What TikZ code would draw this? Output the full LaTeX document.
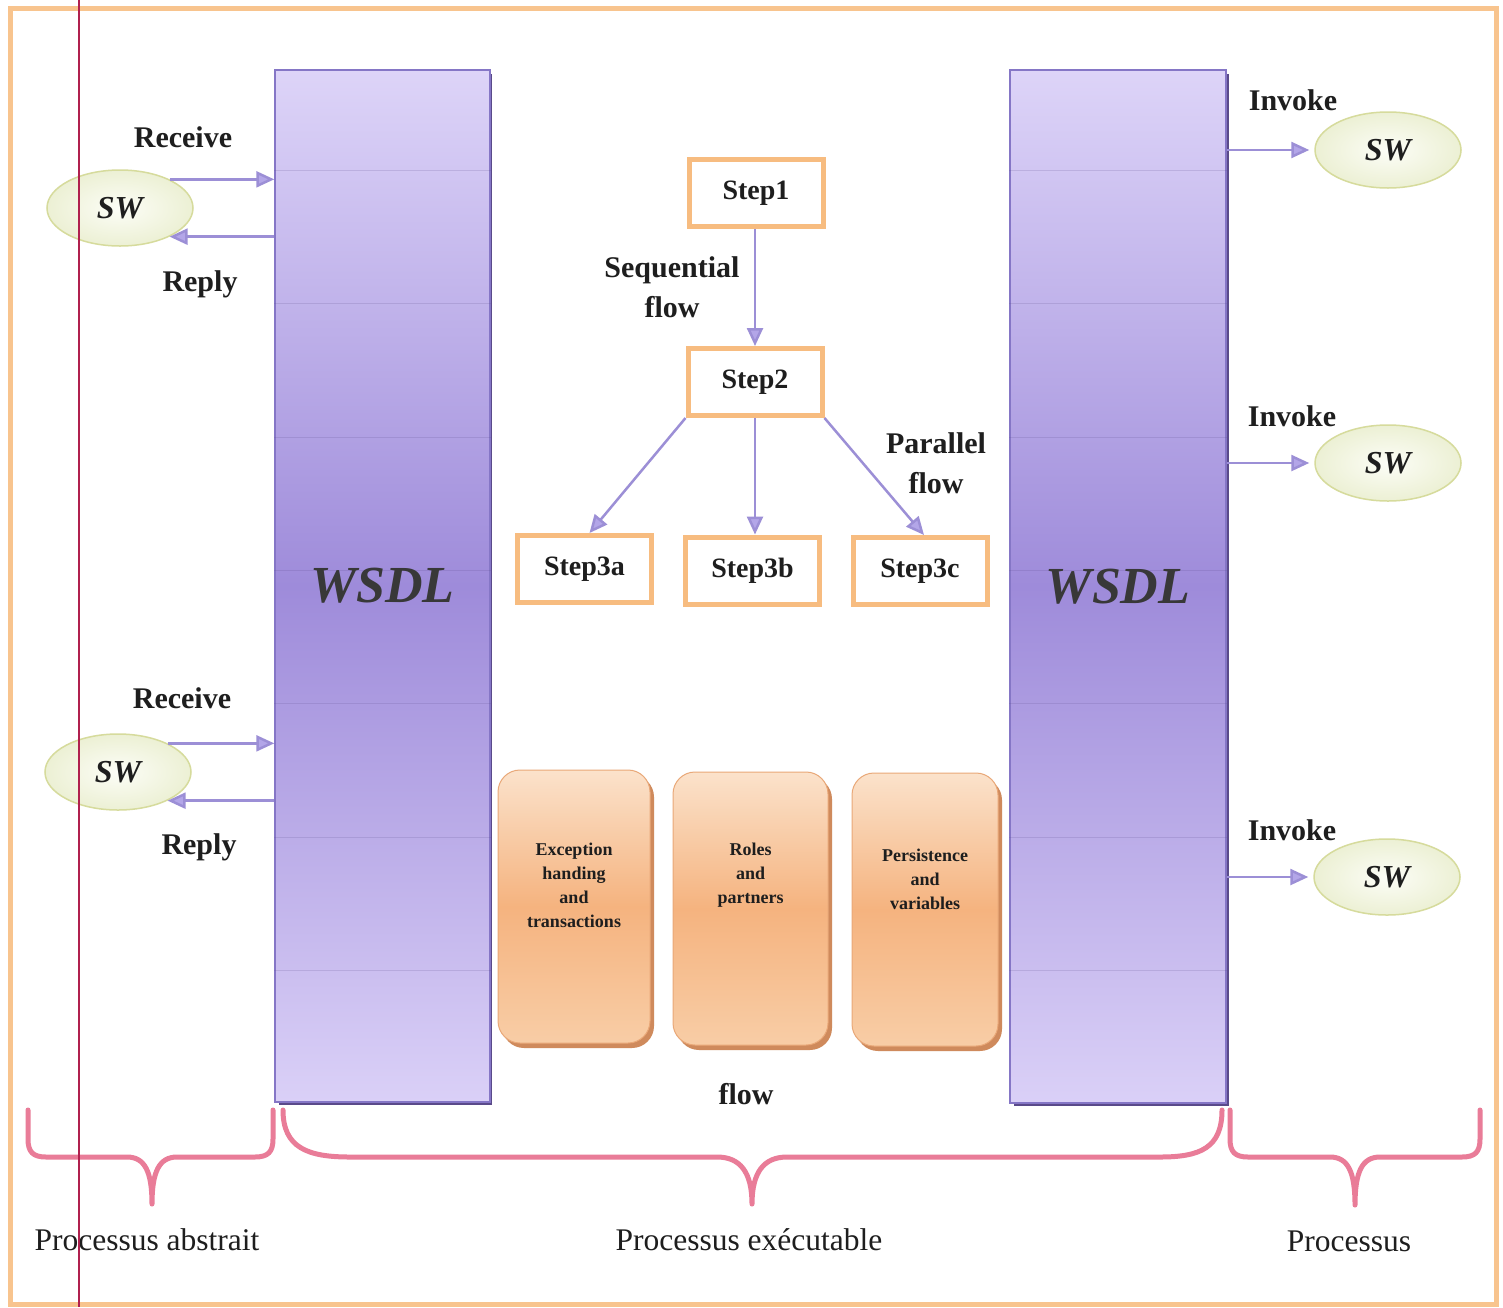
\documentclass[tikz,border=0pt]{standalone}
\usepackage{fontspec}
\setmainfont{Liberation Serif}
\usetikzlibrary{shapes.geometric,arrows.meta,calc}

\definecolor{frameorange}{HTML}{F8C48E}
\definecolor{steporange}{HTML}{F7BC80}
\definecolor{arrowc}{HTML}{9C8FD6}
\definecolor{tipc}{HTML}{B3A6E8}
\definecolor{bartop}{HTML}{DDD4F8}
\definecolor{barmid}{HTML}{9E8BDA}
\definecolor{barbot}{HTML}{DAD0F7}
\definecolor{baredge}{HTML}{8576C6}
\definecolor{barshadowc}{HTML}{5A4A8A}
\definecolor{swin}{HTML}{FCFDF7}
\definecolor{swout}{HTML}{ECF0D4}
\definecolor{swedge}{HTML}{D6DB9C}
\definecolor{optop}{HTML}{FBE2CB}
\definecolor{opmid}{HTML}{F5B37F}
\definecolor{opbot}{HTML}{F8CDA6}
\definecolor{opedge}{HTML}{E9A878}
\definecolor{opshadow}{HTML}{CF8A5C}
\definecolor{bracec}{HTML}{E97C98}
\definecolor{marginred}{HTML}{B0204E}
\definecolor{inkc}{HTML}{1E1E1E}

\tikzset{
  frame/.style={draw=frameorange, line width=5},
  bar/.style={rectangle, inner sep=0, top color=bartop, bottom color=barbot,
    middle color=barmid, draw=baredge, line width=1.5,
    font=\fontsize{52}{56}\selectfont\bfseries\itshape, text=black!78},
  barband/.style={draw=barshadowc, opacity=0.18, line width=1},
  barshadow/.style={fill=barshadowc},
  sw/.style={ellipse, minimum width=146, minimum height=76, inner sep=0,
    inner color=swin, outer color=swout, draw=swedge, line width=1.5,
    font=\fontsize{32}{34}\selectfont\bfseries\itshape, text=inkc},
  lbl/.style={font=\fontsize{30}{40}\selectfont\bfseries, text=inkc, align=center, inner sep=0},
  bottomlbl/.style={font=\fontsize{31.5}{34}\selectfont, text=inkc, inner sep=0},
  stepbox/.style={rectangle, draw=steporange, line width=5, fill=white,
    minimum width=134, minimum height=67, inner sep=0,
    font=\fontsize{28}{30}\selectfont\bfseries, text=inkc},
  flowarrow/.style={draw=arrowc, line width=2.5,
    -{Triangle[length=18,width=16,fill=tipc]}},
  opbox/.style={rectangle, rounded corners=22, top color=optop, bottom color=opbot,
    middle color=opmid, draw=opedge, line width=1},
  opshade/.style={fill=opshadow, rounded corners=22},
  optext/.style={font=\fontsize{18}{24}\selectfont\bfseries, text=inkc, align=center, inner sep=0},
  brace/.style={draw=bracec, line width=5, line cap=round, line join=round},
  margin/.style={draw=marginred, line width=2}
}

\begin{document}
\begin{tikzpicture}[x=1pt,y=1pt]
\useasboundingbox (0,0) rectangle (1503,-1307);
\fill[white] (0,0) rectangle (1503,-1307);

% outer frame
\draw[frame] (10,-8) rectangle (1496,-1304);

% WSDL bars with their shadows and faint bands
\fill[barshadow] (279,-74) rectangle (492,-1105);
\node[bar, minimum width=215, minimum height=1032] (wsdlL) at (382.5,-586) {};
\fill[barshadow] (1014,-74) rectangle (1229,-1106);
\node[bar, minimum width=216, minimum height=1033] (wsdlR) at (1118,-586.5) {};
\foreach \yy in {170,303,437,570,703,837,970}{
  \draw[barband] (wsdlL.west |- 0,-\yy) -- (wsdlL.east |- 0,-\yy);
  \draw[barband] (wsdlR.west |- 0,-\yy) -- (wsdlR.east |- 0,-\yy);
}
\node[font=\fontsize{52}{56}\selectfont\bfseries\itshape, text=black!78] (wsdlLT) at (wsdlL.center) {WSDL};
\node[font=\fontsize{52}{56}\selectfont\bfseries\itshape, text=black!78] (wsdlRT) at (wsdlR.center) {WSDL};

% web services on the left
\node[sw] (swA) at (120,-208) {SW\hspace{16pt}};
\node[sw] (swB) at (118,-772) {SW\hspace{16pt}};
\draw[flowarrow] (swA.30) -- (swA.30 -| wsdlL.west);
\draw[flowarrow] (swA.-30 -| wsdlL.west) -- (swA.-30);
\draw[flowarrow] (swB.30) -- (swB.30 -| wsdlL.west);
\draw[flowarrow] (swB.-30 -| wsdlL.west) -- (swB.-30);
\node[lbl] (recA) at (183,-137) {Receive};
\node[lbl] (repA) at (200,-284) {Reply};
\node[lbl] (recB) at (182,-698) {Receive};
\node[lbl] (repB) at (199,-847) {Reply};

% web services on the right
\node[sw] (swC) at (1388,-150) {SW\hspace{16pt}};
\node[sw] (swD) at (1388,-463) {SW\hspace{16pt}};
\node[sw] (swE) at (1387,-877) {SW\hspace{16pt}};
\draw[flowarrow] (swC.west -| wsdlR.east) -- ([xshift=-5]swC.west);
\draw[flowarrow] (swD.west -| wsdlR.east) -- ([xshift=-5]swD.west);
\draw[flowarrow] (swE.west -| wsdlR.east) -- ([xshift=-5]swE.west);
\node[lbl] (invC) at (1293,-100) {Invoke};
\node[lbl] (invD) at (1292,-416) {Invoke};
\node[lbl] (invE) at (1292,-830) {Invoke};

% steps of the process
\node[stepbox] (s1) at (756,-193) {Step1};
\node[stepbox] (s2) at (755,-382) {Step2};
\node[stepbox] (s3a) at (584.5,-569) {Step3a};
\node[stepbox] (s3b) at (752.5,-570.5) {Step3b};
\node[stepbox] (s3c) at (920,-571) {Step3c};
\draw[flowarrow] (s2.north |- s1.south) -- (s2.north);
\draw[flowarrow] (s2.south west) -- ([xshift=5]s3a.north);
\draw[flowarrow] (s2.south) -- (s2.south |- s3b.north);
\draw[flowarrow] (s2.south east) -- ([xshift=4]s3c.north);
\node[lbl] (seq) at (672,-287) {Sequential\\flow};
\node[lbl] (par) at (936,-463) {Parallel\\flow};

% supporting blocks
\fill[opshade] (502,-775) rectangle (654,-1048);
\node[opbox, minimum width=152, minimum height=273] (exc) at (574,-906.5) {};
\node[optext] (excT) at ([yshift=21]exc.center) {Exception\\handing\\and\\transactions};
\fill[opshade] (677,-777) rectangle (832,-1050);
\node[opbox, minimum width=155, minimum height=273] (rol) at (750.5,-908.5) {};
\node[optext] (rolT) at ([yshift=33]rol.center) {Roles\\and\\partners};
\fill[opshade] (856,-778) rectangle (1002,-1051);
\node[opbox, minimum width=146, minimum height=273] (per) at (925,-909.5) {};
\node[optext] (perT) at ([yshift=30]per.center) {Persistence\\and\\variables};
\node[lbl] (flw) at (746,-1094) {flow};

% braces
\draw[brace] (28,-1110) -- (28,-1139) .. controls (28,-1152) and (33,-1157) .. (46,-1157)
  -- (127,-1157) .. controls (145,-1157) and (152,-1172) .. (152,-1204)
  .. controls (152,-1172) and (159,-1157) .. (177,-1157)
  -- (255,-1157) .. controls (268,-1157) and (273,-1152) .. (273,-1139) -- (273,-1110);
\draw[brace] (283,-1110) .. controls (283,-1148) and (308,-1157) .. (350,-1157)
  -- (717,-1157) .. controls (740,-1157) and (752,-1172) .. (752,-1204)
  .. controls (752,-1172) and (764,-1157) .. (787,-1157)
  -- (1160,-1157) .. controls (1200,-1157) and (1222,-1148) .. (1222,-1110);
\draw[brace] (1230,-1110) -- (1230,-1139) .. controls (1230,-1152) and (1235,-1157) .. (1248,-1157)
  -- (1330,-1157) .. controls (1348,-1157) and (1355,-1172) .. (1355,-1205)
  .. controls (1355,-1172) and (1362,-1157) .. (1380,-1157)
  -- (1462,-1157) .. controls (1475,-1157) and (1480,-1152) .. (1480,-1139) -- (1480,-1110);
\node[bottomlbl] (pa) at (147,-1240) {Processus abstrait};
\node[bottomlbl] (pe) at (749,-1240) {Processus exécutable};
\node[bottomlbl] (pp) at (1349,-1241) {Processus};

% margin rule
\draw[margin] (79,0) -- (79,-1307);
\end{tikzpicture}
\end{document}
